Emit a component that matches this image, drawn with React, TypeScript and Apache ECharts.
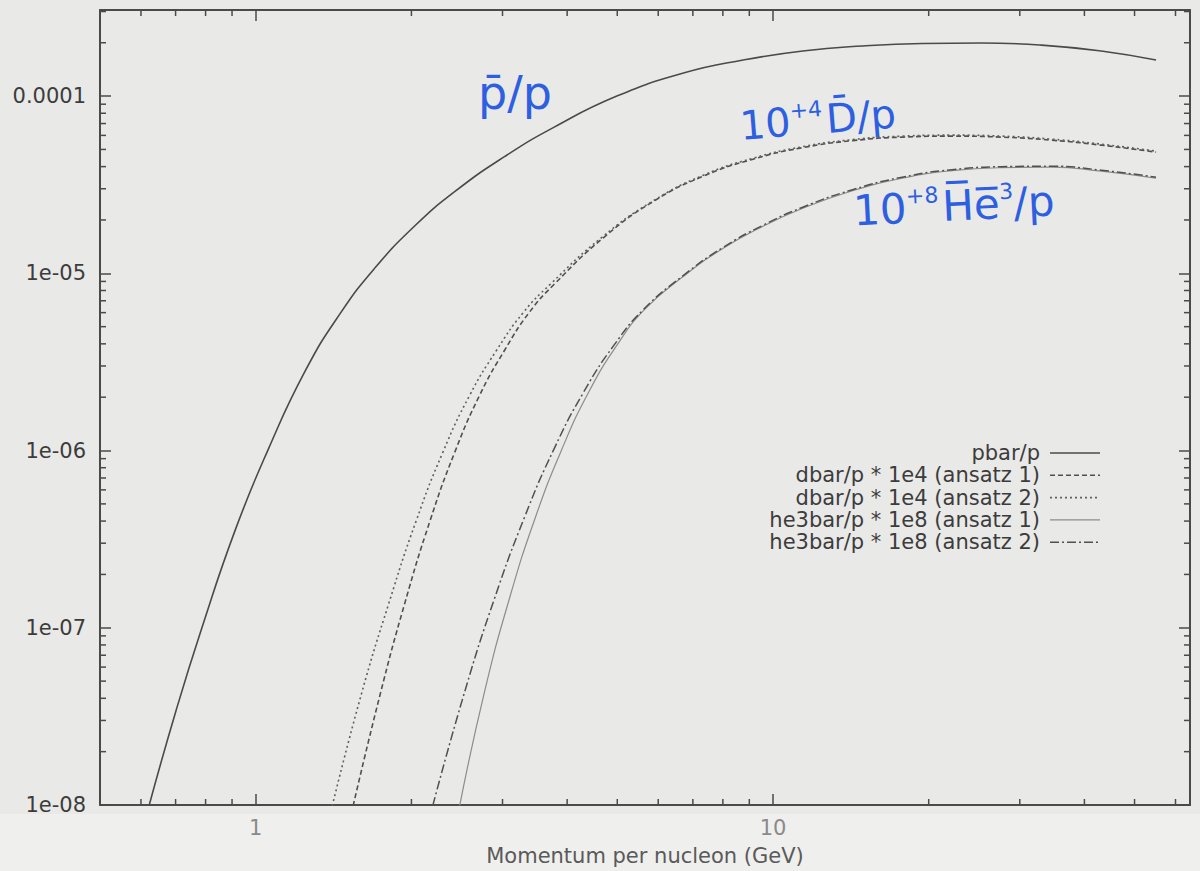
import React, { useEffect, useRef } from 'react';
import * as echarts from 'echarts';

// Momentum per nucleon (GeV) and ratios
const pbarX = [0.622, 0.702, 0.787, 0.915, 1.059, 1.248, 1.457, 1.701, 2.031, 2.424, 3.026, 3.776, 4.99, 6.714, 8.757, 11.42, 14.9, 19.43, 25.34, 33.05, 43.11, 55.02];
const pbarY = [9.9e-9, 3.44e-8, 1.0e-7, 3.625e-7, 1.026e-6, 2.83e-6, 5.94e-6, 1.074e-5, 1.855e-5, 2.887e-5, 4.55e-5, 6.68e-5, 1.0e-4, 1.349e-4, 1.597e-4, 1.796e-4, 1.917e-4, 1.98e-4, 1.992e-4, 1.94e-4, 1.796e-4, 1.597e-4];

const dbar1X = [1.543, 1.739, 1.943, 2.17, 2.424, 2.708, 3.026, 3.38, 3.776, 4.712, 5.878, 7.335, 9.153, 11.42, 14.25, 17.78, 22.19, 27.69, 34.55, 43.11, 55.02];
const dbar1Y = [9.9e-9, 4.18e-8, 1.384e-7, 3.97e-7, 9.74e-7, 2.045e-6, 3.67e-6, 6.02e-6, 8.67e-6, 1.597e-5, 2.551e-5, 3.532e-5, 4.406e-5, 5.117e-5, 5.605e-5, 5.866e-5, 5.943e-5, 5.866e-5, 5.64e-5, 5.287e-5, 4.827e-5];

const dbar2X = [1.406, 1.599, 1.81, 2.04, 2.299, 2.591, 2.92, 3.292, 3.71, 4.67, 5.852, 7.335, 9.153, 11.42, 14.25, 17.78, 22.19, 27.69, 34.55, 43.11, 55.02];
const dbar2Y = [9.9e-9, 4.18e-8, 1.384e-7, 3.97e-7, 9.74e-7, 2.045e-6, 3.67e-6, 6.02e-6, 8.67e-6, 1.597e-5, 2.551e-5, 3.578e-5, 4.463e-5, 5.185e-5, 5.68e-5, 5.943e-5, 6.02e-5, 5.943e-5, 5.715e-5, 5.356e-5, 4.89e-5];

const he3aX = [2.479, 2.769, 3.093, 3.471, 3.912, 4.409, 4.99, 5.648, 6.714, 8.013, 9.567, 11.42, 14.25, 17.78, 22.19, 27.69, 34.55, 43.11, 55.02];
const he3aY = [9.9e-9, 4.35e-8, 1.458e-7, 4.18e-7, 1.026e-6, 2.154e-6, 3.919e-6, 6.26e-6, 9.62e-6, 1.384e-5, 1.843e-5, 2.329e-5, 2.924e-5, 3.44e-5, 3.793e-5, 3.945e-5, 3.971e-5, 3.769e-5, 3.44e-5];

const he3bX = [2.199, 2.535, 2.894, 3.306, 3.776, 4.312, 4.924, 5.623, 6.714, 8.013, 9.567, 11.42, 14.25, 17.78, 22.19, 27.69, 34.55, 43.11, 55.02];
const he3bY = [9.9e-9, 4.35e-8, 1.458e-7, 4.18e-7, 1.026e-6, 2.154e-6, 3.919e-6, 6.26e-6, 9.74e-6, 1.402e-5, 1.867e-5, 2.36e-5, 2.963e-5, 3.486e-5, 3.843e-5, 3.996e-5, 4.022e-5, 3.818e-5, 3.486e-5];

const seriesNames = ['pbar/p', 'dbar/p * 1e4 (ansatz 1)', 'dbar/p * 1e4 (ansatz 2)', 'he3bar/p * 1e8 (ansatz 1)', 'he3bar/p * 1e8 (ansatz 2)'];
const yTickLabels = ['1e-08', '1e-07', '1e-06', '1e-05', '0.0001'];
const yDecades = [-8, -7, -6, -5, -4];
const xTickLabels = ['1', '10'];
const xMinorTicks = [0.6, 0.7, 0.8, 0.9, 2, 3, 4, 5, 6, 7, 8, 9, 20, 30, 40, 50, 60];
const minorMultipliers = [2, 3, 4, 5, 6, 7, 8, 9];
const xTitle = 'Momentum per nucleon (GeV)';

const X_MIN = 0.5;
const X_MAX = 64;
const Y_MIN = 1e-8;
const Y_MAX = 3.06e-4;

const AXIS_COLOR = '#4a4a4a';
const TEXT_COLOR = '#3c3c3c';
const FONT = 'DejaVu Sans';
const BLUE = '#2d5fe0';

const styles: any[] = [
  { color: '#4a4a4a', width: 1.6, type: 'solid' },
  { color: '#505050', width: 1.6, type: [5, 3] },
  { color: '#606060', width: 1.6, type: [2, 3] },
  { color: '#8c8c8c', width: 1.2, type: 'solid' },
  { color: '#505050', width: 1.5, type: [9, 3, 2, 3] },
];

function zip(xs: number[], ys: number[]) {
  return xs.map((x, i) => [x, ys[i]]);
}

const isDecade = (v: number) => Math.abs(Math.log10(v) - Math.round(Math.log10(v))) < 1e-6;

export default function App() {
  const ref = useRef<HTMLDivElement>(null);
  useEffect(() => {
    if (!ref.current) return;
    const chart = echarts.init(ref.current, undefined, { renderer: 'svg' });
    const datasets = [zip(pbarX, pbarY), zip(dbar1X, dbar1Y), zip(dbar2X, dbar2Y), zip(he3aX, he3aY), zip(he3bX, he3bY)];
    const yMinor: number[][] = [];
    yDecades.forEach((d) => minorMultipliers.forEach((m) => {
      const v = m * Math.pow(10, d);
      if (v < Y_MAX) yMinor.push([1, v]);
    }));

    const baseAxisLine = { show: true, lineStyle: { color: AXIS_COLOR, width: 2 } };
    const baseTick = { show: true, inside: true, length: 11, lineStyle: { color: AXIS_COLOR, width: 1.5 } };

    const legendGraphics: any[] = [];
    seriesNames.forEach((name, i) => {
      const y = 453 + i * 22.3;
      legendGraphics.push({
        type: 'text', x: 1040, y, style: { text: name, fill: TEXT_COLOR, font: `21px "${FONT}"`, align: 'right', verticalAlign: 'middle' },
      });
      legendGraphics.push({
        type: 'line', shape: { x1: 1050, y1: y, x2: 1100, y2: y },
        style: { stroke: styles[i].color, lineWidth: styles[i].width, lineDash: Array.isArray(styles[i].type) ? styles[i].type : null },
      });
    });

    const richStyle = (big: number, small: number, pad: number) => ({
      a: { fontSize: big, fontFamily: FONT, fill: BLUE, verticalAlign: 'bottom' },
      s: { fontSize: small, fontFamily: FONT, fill: BLUE, verticalAlign: 'top', padding: [0, 0, pad, 0] },
    });

    const annotations: any[] = [
      {
        type: 'text', x: 478, y: 70,
        style: { text: 'p\u0304/p', fill: BLUE, font: `46px "${FONT}"` },
      },
      {
        type: 'text', x: 738, y: 104, rotation: 0.08,
        style: { text: '{a|10}{s|+4} {a|D\u0304/p}', fill: BLUE, rich: richStyle(40, 22, 20) },
      },
      {
        type: 'text', x: 852, y: 188, rotation: 0.05,
        style: { text: '{a|10}{s|+8} {a|H\u0305e\u0305}{s|3}{a|/p}', fill: BLUE, rich: richStyle(42, 22, 22) },
      },
    ];

    chart.setOption({
      animation: false,
      backgroundColor: '#e9e9e7',
      grid: { left: 100, right: 10, top: 10, bottom: 66, containLabel: false },
      xAxis: [
        {
          type: 'log', logBase: 10, min: X_MIN, max: X_MAX, position: 'bottom',
          axisLine: baseAxisLine, axisTick: baseTick, splitLine: { show: false },
          axisLabel: {
            color: '#8a8a8a', fontSize: 21, fontFamily: FONT, margin: 12,
            formatter: (v: number) => (isDecade(v) ? xTickLabels[Math.round(Math.log10(v))] ?? '' : ''),
          },
          name: xTitle, nameLocation: 'middle', nameGap: 40,
          nameTextStyle: { color: '#5a5a5a', fontSize: 21, fontFamily: FONT },
        },
        {
          type: 'log', logBase: 10, min: X_MIN, max: X_MAX, position: 'top',
          axisLine: baseAxisLine, axisTick: baseTick, splitLine: { show: false }, axisLabel: { show: false },
        },
      ],
      yAxis: [
        {
          type: 'log', logBase: 10, min: Y_MIN, max: Y_MAX, position: 'left',
          axisLine: baseAxisLine, axisTick: baseTick, splitLine: { show: false },
          axisLabel: {
            color: TEXT_COLOR, fontSize: 21, fontFamily: FONT, margin: 14,
            formatter: (v: number) => {
              if (!isDecade(v)) return '';
              const idx = yDecades.indexOf(Math.round(Math.log10(v)));
              return idx >= 0 ? yTickLabels[idx] : '';
            },
          },
        },
        {
          type: 'log', logBase: 10, min: Y_MIN, max: Y_MAX, position: 'right',
          axisLine: baseAxisLine, axisTick: baseTick, splitLine: { show: false }, axisLabel: { show: false },
        },
      ],
      series: [
        ...datasets.map((d, i) => ({
          name: seriesNames[i], type: 'line', data: d, smooth: 0.5, showSymbol: false, symbol: 'none',
          xAxisIndex: 0, yAxisIndex: 0, clip: true,
          lineStyle: { color: styles[i].color, width: styles[i].width, type: styles[i].type },
          z: 3,
        })),
        {
          type: 'custom', name: 'xminor', xAxisIndex: 0, yAxisIndex: 0, silent: true, z: 4,
          data: xMinorTicks.map((v) => [v, 1e-6]),
          renderItem: (params: any, api: any) => {
            const cs = params.coordSys;
            const x = api.coord([api.value(0), api.value(1)])[0];
            const st = { stroke: AXIS_COLOR, lineWidth: 1.5 };
            return {
              type: 'group', children: [
                { type: 'line', shape: { x1: x, y1: cs.y + cs.height, x2: x, y2: cs.y + cs.height - 6 }, style: st },
                { type: 'line', shape: { x1: x, y1: cs.y, x2: x, y2: cs.y + 6 }, style: st },
              ],
            };
          },
        },
        {
          type: 'custom', name: 'yminor', xAxisIndex: 0, yAxisIndex: 0, silent: true, z: 4,
          data: yMinor,
          renderItem: (params: any, api: any) => {
            const cs = params.coordSys;
            const y = api.coord([api.value(0), api.value(1)])[1];
            const st = { stroke: AXIS_COLOR, lineWidth: 1.5 };
            return {
              type: 'group', children: [
                { type: 'line', shape: { x1: cs.x, y1: y, x2: cs.x + 6, y2: y }, style: st },
                { type: 'line', shape: { x1: cs.x + cs.width, y1: y, x2: cs.x + cs.width - 6, y2: y }, style: st },
              ],
            };
          },
        },
      ],
      graphic: [
        { type: 'rect', z: -10, silent: true, shape: { x: 0, y: 814, width: 1200, height: 57 }, style: { fill: '#efefed' } },
        ...legendGraphics,
        ...annotations,
      ],
    });
    return () => chart.dispose();
  }, []);
  return (
    <div
      ref={ref}
      style={{ position: 'absolute', left: 0, top: 0, width: 1200, height: 871, background: '#e9e9e7' }}
    />
  );
}
